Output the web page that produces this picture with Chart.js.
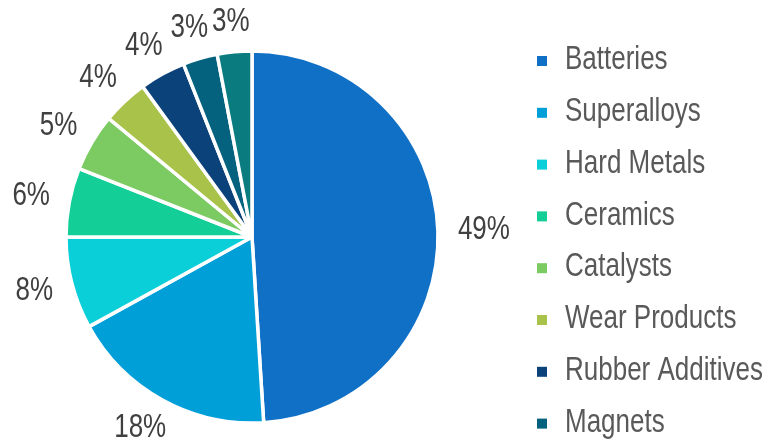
<!DOCTYPE html>
<html lang="en">
<head>
    <meta charset="UTF-8">
    <title>Cobalt end uses</title>
    <script src="https://cdn.jsdelivr.net/npm/chart.js"></script>
    <style>
        html, body {
            margin: 0;
            padding: 0;
            background: #fff;
        }

        .chart-container {
            position: relative;
            width: 764px;
            height: 445px;
        }
    </style>
</head>
<body>
    <div class="chart-container">
        <canvas id="usesChart"></canvas>
    </div>

    <script>
        // share of each end use, in percent
        const categories = ['Batteries', 'Superalloys', 'Hard Metals', 'Ceramics', 'Catalysts',
            'Wear Products', 'Rubber Additives', 'Magnets', 'Other'];
        const shares = [49, 18, 8, 6, 5, 4, 4, 3, 3];
        const sliceColors = ['#1070C5', '#009FD8', '#0BCFD8', '#13CE96', '#7BCA62',
            '#A8C24A', '#0B4279', '#05627F', '#0A7C80'];
        // only the first eight uses are listed in the legend
        const legendCount = 8;

        // narrow, tall lettering: regular sans stretched vertically
        const FONT = '26px "Liberation Sans", Arial, sans-serif';
        const STRETCH = 1.28;

        function drawTallText(ctx, text, x, y) {
            ctx.save();
            ctx.scale(1, STRETCH);
            ctx.fillText(text, x, y / STRETCH);
            ctx.restore();
        }

        // percent labels just outside each slice
        const outsideLabels = {
            id: 'outsideLabels',
            afterDatasetsDraw(chart) {
                const ctx = chart.ctx;
                const meta = chart.getDatasetMeta(0);
                const data = chart.data.datasets[0].data;
                const total = data.reduce((a, b) => a + b, 0);
                ctx.save();
                ctx.font = FONT;
                ctx.fillStyle = '#404040';
                ctx.textAlign = 'center';
                ctx.textBaseline = 'middle';
                meta.data.forEach((arc, i) => {
                    const p = arc.getProps(['x', 'y', 'startAngle', 'endAngle', 'outerRadius'], true);
                    const mid = (p.startAngle + p.endAngle) / 2;
                    const ux = Math.cos(mid);
                    const uy = Math.sin(mid);
                    const text = Math.round(data[i] / total * 100) + '%';
                    const halfW = ctx.measureText(text).width / 2;
                    const halfH = 12;
                    const d = p.outerRadius + 20;
                    const x = p.x + ux * d + ux * halfW;
                    let y = p.y + uy * d + uy * halfH;
                    y = Math.max(22, Math.min(chart.height - 14, y));
                    drawTallText(ctx, text, x, y);
                });
                ctx.restore();
            }
        };

        // legend column on the right, first eight uses
        const sideLegend = {
            id: 'sideLegend',
            afterDraw(chart) {
                const ctx = chart.ctx;
                const colors = chart.data.datasets[0].backgroundColor;
                const left = 537;
                const top = 60;
                const step = 51.8;
                ctx.save();
                ctx.font = FONT;
                ctx.textAlign = 'left';
                ctx.textBaseline = 'middle';
                chart.data.labels.slice(0, legendCount).forEach((label, i) => {
                    const cy = top + i * step;
                    ctx.fillStyle = colors[i];
                    ctx.fillRect(left, cy - 4, 10, 10);
                    ctx.fillStyle = '#595959';
                    drawTallText(ctx, label, left + 28, cy);
                });
                ctx.restore();
            }
        };

        const ctx = document.getElementById('usesChart').getContext('2d');
        new Chart(ctx, {
            type: 'pie',
            data: {
                labels: categories,
                datasets: [{
                    data: shares,
                    backgroundColor: sliceColors,
                    borderColor: '#ffffff',
                    borderWidth: 3.5,
                    radius: 186
                }]
            },
            options: {
                responsive: true,
                maintainAspectRatio: false,
                animation: false,
                layout: {
                    padding: { top: 29, bottom: 0, left: 0, right: 260 }
                },
                plugins: {
                    tooltip: { enabled: false },
                    legend: { display: false }
                }
            },
            plugins: [outsideLabels, sideLegend]
        });
    </script>
</body>
</html>
